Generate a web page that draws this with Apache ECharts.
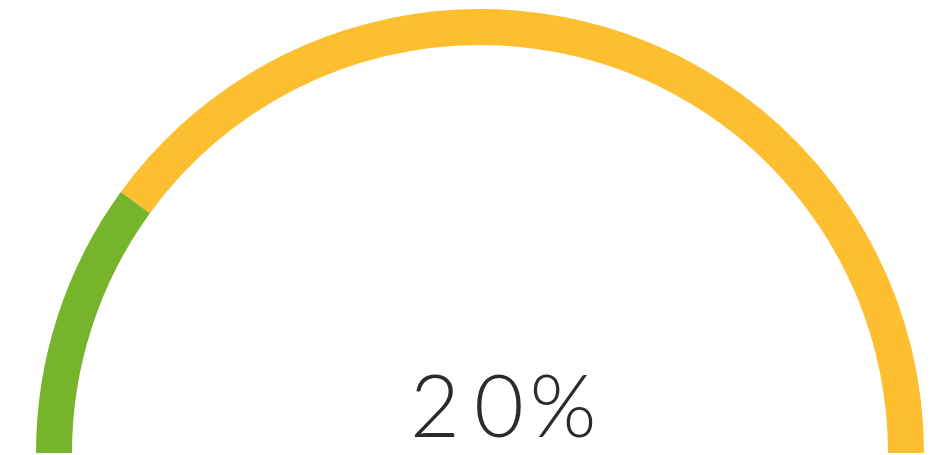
<!DOCTYPE html>
<html><head><meta charset="utf-8">
<script src="https://cdn.jsdelivr.net/npm/echarts@6/dist/echarts.min.js"></script>
<style>html,body{margin:0;padding:0;background:#fff}#c{width:943px;height:455px}</style>
</head><body><div id="c"></div>
<script>
const gaugeValue = [20];
const bandStops = [0.2, 1];
const bandColors = ['#76b52b', '#fdbe2f'];

const chart = echarts.init(document.getElementById('c'));
chart.setOption({
  animation: false,
  series: [{
    type: 'gauge',
    center: ['480px', '453px'],
    radius: '444px',
    startAngle: 180,
    endAngle: 0,
    min: 0,
    max: 100,
    axisLine: { lineStyle: { width: 36, color: bandStops.map((s, i) => [s, bandColors[i]]) } },
    pointer: { show: false },
    axisTick: { show: false },
    splitLine: { show: false },
    axisLabel: { show: false },
    title: { show: false },
    anchor: { show: false },
    detail: {
      offsetCenter: [19, -44],
      formatter: v => String(v).split('').concat(['%']).map(ch => '{a|' + ch + '}').join(''),
      rich: {
        a: { fontFamily: 'Lato', fontWeight: 300, fontSize: 86, width: 64, align: 'center', color: '#2b2b2b', lineHeight: 90 }
      }
    },
    data: gaugeValue.map(v => ({ value: v }))
  }]
});
</script></body></html>
